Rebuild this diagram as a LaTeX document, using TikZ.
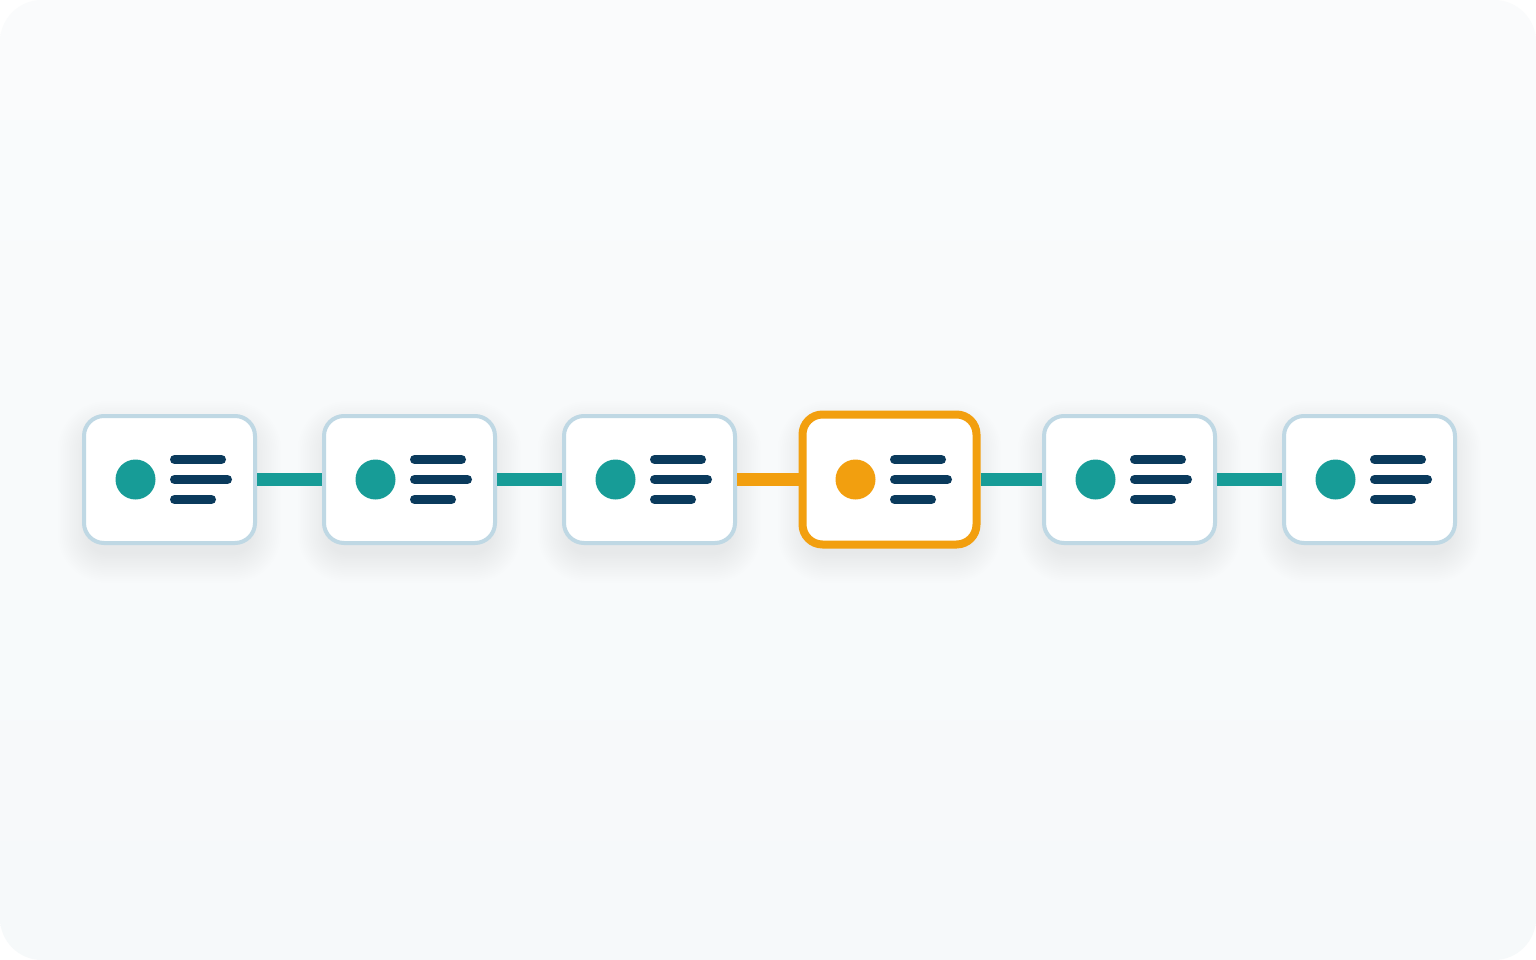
\documentclass[tikz,border=0pt]{standalone}
\usepackage{tikz}

\definecolor{fondhaut}{HTML}{FAFBFC}
\definecolor{fondbas}{HTML}{F6F9FA}
\definecolor{bordure}{HTML}{BFD8E4}
\definecolor{sarcelle}{HTML}{179C97}
\definecolor{ambre}{HTML}{F29F0F}
\definecolor{marine}{HTML}{0A3A5C}

\tikzset{
  carte/.style={rectangle,rounded corners=20pt,fill=white,draw=bordure,
    line width=4pt,minimum width=171pt,minimum height=127pt,inner sep=0pt},
  carteactive/.style={carte,draw=ambre,line width=8pt,
    minimum width=174pt,minimum height=130pt},
  ombre/.style={fill=marine,opacity=0.0055},
  lien/.style={line width=13pt},
  trait/.style={draw=marine,line width=9pt,line cap=round}
}

\begin{document}
\begin{tikzpicture}[x=1pt,y=-1pt]
      % Fond arrondi
      \fill[white] (0,0) rectangle (1536,960);
      \shade[top color=fondhaut,bottom color=fondbas,rounded corners=42pt]
        (0,0) rectangle (1536,960);
      \useasboundingbox (0,0) rectangle (1536,960);

      % Cartes de la frise
      \foreach \i in {1,...,6}{%
        \pgfmathsetmacro{\cx}{169.5+240*(\i-1)}
        % Ombre douce sous la carte
        \foreach \k in {0,...,16}{%
          \fill[ombre,rounded corners={20+1.8*\k}]
            ({\cx-83-1.8*\k},{430-1.8*\k}) rectangle ({\cx+83+1.8*\k},{554+1.8*\k});
        }
        \ifnum\i=4
          \node[carteactive] (c\i) at (\cx,479.5) {};
          \fill[ambre] (c\i.center) ++(-34,0) circle (20);
        \else
          \node[carte] (c\i) at (\cx,479.5) {};
          \fill[sarcelle] (c\i.center) ++(-34,0) circle (20);
        \fi
        % Lignes de texte
        \draw[trait] (c\i.center) ++(5,-20) -- ++(47,0);
        \draw[trait] (c\i.center) ++(5,0) -- ++(53,0);
        \draw[trait] (c\i.center) ++(5,20) -- ++(37,0);
      }

      % Liaisons entre cartes
      \draw[lien,sarcelle] (c1) -- (c2);
      \draw[lien,sarcelle] (c2) -- (c3);
      \draw[lien,ambre] (c3) -- (c4);
      \draw[lien,sarcelle] (c4) -- (c5);
      \draw[lien,sarcelle] (c5) -- (c6);
    \end{tikzpicture}
\end{document}
